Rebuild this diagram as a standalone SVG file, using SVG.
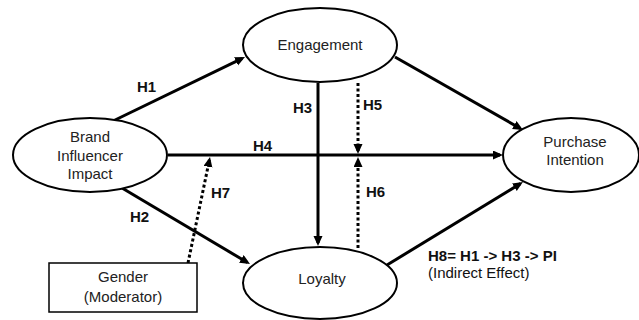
<svg xmlns="http://www.w3.org/2000/svg" width="639" height="320" viewBox="0 0 639 320">
<style>
.node{fill:#fff;stroke:#000;stroke-width:2}
.t{font-family:"Liberation Sans",Arial,sans-serif;font-size:15px;fill:#222;text-anchor:middle}
.lbl{font-family:"Liberation Sans",Arial,sans-serif;font-size:15px;font-weight:bold;fill:#111}
.a{stroke:#000;stroke-width:3;fill:none;marker-end:url(#ah)}
.d{stroke:#000;stroke-width:3;fill:none;stroke-dasharray:3 2.5;marker-end:url(#ah)}
</style>
<defs>
<marker id="ah" markerUnits="userSpaceOnUse" markerWidth="11" markerHeight="10" refX="7" refY="4.5" orient="auto">
<path d="M0,0 L10,4.5 L0,9 z" fill="#000"/>
</marker>
</defs>
<rect width="639" height="320" fill="#fff"/>
<g id="connectors">
<line class="a" x1="113" y1="121" x2="242.3" y2="58.3"/>
<line class="a" x1="395" y1="57" x2="520.4" y2="128.5"/>
<line class="a" x1="168" y1="155" x2="500" y2="155"/>
<line class="a" x1="318" y1="83" x2="318" y2="243"/>
<line class="d" x1="358" y1="83" x2="358" y2="151"/>
<line class="d" x1="358" y1="248" x2="358" y2="160"/>
<line class="d" x1="188" y1="263" x2="209.4" y2="159.9"/>
<line class="a" x1="122" y1="188" x2="247.4" y2="262.5"/>
<line class="a" x1="387" y1="265" x2="520.4" y2="183.6"/>
<text class="lbl" x="137" y="92">H1</text>
<text class="lbl" x="293" y="113">H3</text>
<text class="lbl" x="253" y="151">H4</text>
<text class="lbl" x="363" y="110">H5</text>
<text class="lbl" x="366" y="197">H6</text>
<text class="lbl" x="211" y="198">H7</text>
<text class="lbl" x="130" y="222">H2</text>
<text class="lbl" x="428" y="261">H8= H1 -&gt; H3 -&gt; PI</text>
<text class="lbl" x="428" y="278" style="font-weight:normal">(Indirect Effect)</text>
</g>
<g id="engagement">
<ellipse class="node" cx="320" cy="45" rx="77" ry="37"/>
<text class="t" x="320" y="50">Engagement</text>
</g>
<g id="brand">
<ellipse class="node" cx="90" cy="155" rx="77" ry="37"/>
<text class="t" x="90" y="142">Brand</text>
<text class="t" x="90" y="160.5">Influencer</text>
<text class="t" x="90" y="179">Impact</text>
</g>
<g id="purchase">
<ellipse class="node" cx="571" cy="155" rx="68" ry="37"/>
<text class="t" x="575" y="147">Purchase</text>
<text class="t" x="575" y="165">Intention</text>
</g>
<g id="loyalty">
<ellipse class="node" cx="320" cy="283" rx="77" ry="36"/>
<text class="t" x="322" y="284">Loyalty</text>
</g>
<g id="gender">
<rect class="node" x="49" y="263" width="148" height="49" style="stroke-width:1.5"/>
<text class="t" x="123" y="282">Gender</text>
<text class="t" x="123" y="302">(Moderator)</text>
</g>
</svg>
